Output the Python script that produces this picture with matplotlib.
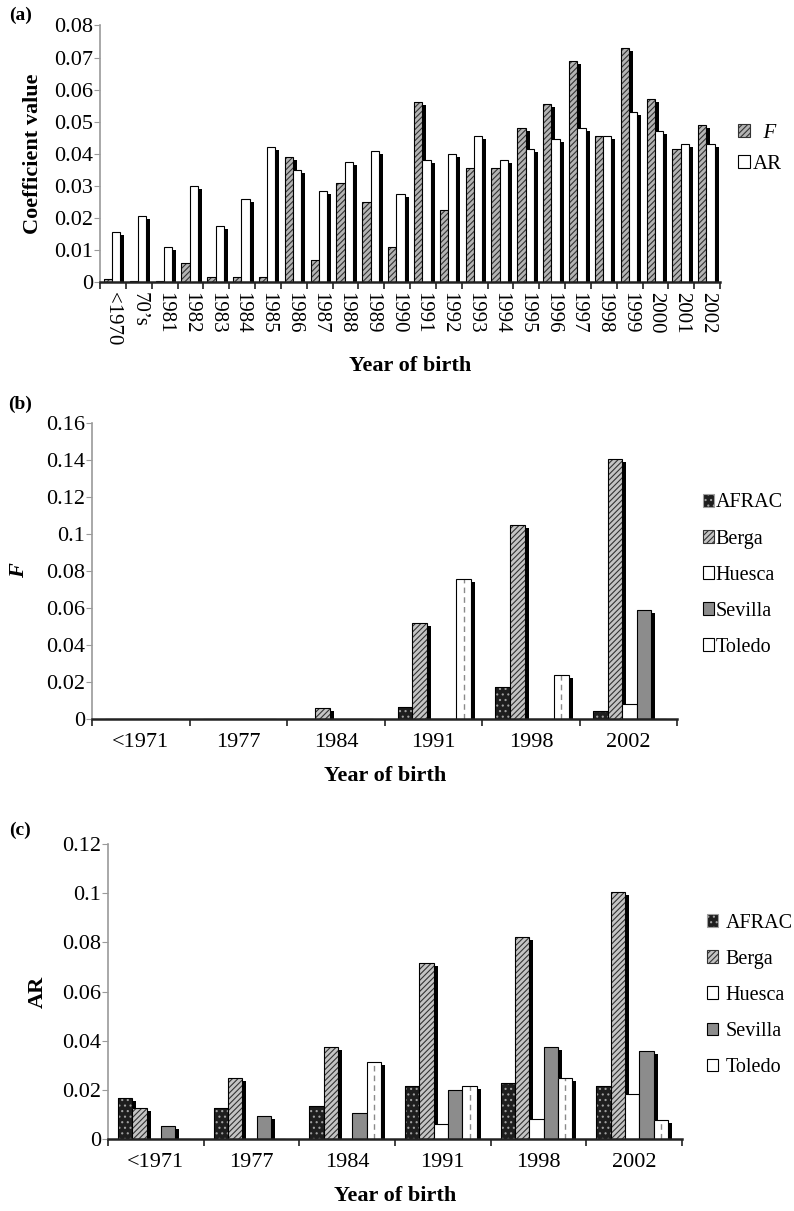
import numpy as np
import matplotlib
matplotlib.use('Agg')
import matplotlib.pyplot as plt
from matplotlib import font_manager
from matplotlib.patches import Patch
from matplotlib.transforms import ScaledTranslation
from matplotlib.ticker import FuncFormatter, MultipleLocator

# pick a Times-like serif that is actually installed
installed = {f.name for f in font_manager.fontManager.ttflist}
serif = 'DejaVu Serif'
for cand in ['Liberation Serif', 'Tinos', 'Times New Roman', 'STIXGeneral']:
    if cand in installed:
        serif = cand
        break
plt.rcParams['font.family'] = [serif, 'DejaVu Serif']
plt.rcParams['hatch.linewidth'] = 0.8

# ---- panel (a): F and AR by year of birth
years_a = ['<1970', '70’s', '1981', '1982', '1983', '1984', '1985', '1986',
           '1987', '1988', '1989', '1990', '1991', '1992', '1993', '1994',
           '1995', '1996', '1997', '1998', '1999', '2000', '2001', '2002']
f_a = [0.001, 0.0003, 0.0003, 0.006, 0.0015, 0.0015, 0.0015, 0.039,
       0.007, 0.031, 0.025, 0.011, 0.056, 0.0225, 0.0355, 0.0355,
       0.048, 0.0555, 0.069, 0.0455, 0.073, 0.057, 0.0415, 0.049]
ar_a = [0.0155, 0.0205, 0.011, 0.030, 0.0175, 0.026, 0.042, 0.035,
        0.0285, 0.0375, 0.041, 0.0275, 0.038, 0.040, 0.0455, 0.038,
        0.0415, 0.0445, 0.048, 0.0455, 0.053, 0.047, 0.043, 0.043]

# ---- panels (b) and (c): by population
years_bc = ['<1971', '1977', '1984', '1991', '1998', '2002']
pops = ['AFRAC', 'Berga', 'Huesca', 'Sevilla', 'Toledo']

f_afrac = [0, 0, 0, 0.0065, 0.0175, 0.0045]
f_berga = [0, 0, 0.006, 0.052, 0.105, 0.1405]
f_huesca = [0, 0, 0, 0, 0, 0.0085]
f_sevilla = [0, 0, 0, 0, 0, 0.0587]
f_toledo = [0, 0, 0, 0.0755, 0.024, 0]

ar_afrac = [0.0167, 0.0126, 0.0135, 0.0217, 0.0228, 0.0217]
ar_berga = [0.0126, 0.0248, 0.0374, 0.0716, 0.0822, 0.1005]
ar_huesca = [0, 0, 0, 0.0062, 0.0081, 0.0183]
ar_sevilla = [0.0055, 0.0095, 0.0106, 0.020, 0.0374, 0.0357]
ar_toledo = [0, 0, 0.0313, 0.0214, 0.0248, 0.0079]

STY = {
    'F':       dict(face='#b4b4b4', hatch='//////', hcol='#333333'),
    'AR':      dict(face='white', hatch=None, hcol='white'),
    'AFRAC':   dict(face='#1e1e1e', hatch='...', hcol='#a0a0a0'),
    'Berga':   dict(face='#c4c4c4', hatch='//////', hcol='#333333'),
    'Huesca':  dict(face='white', hatch=None, hcol='white'),
    'Sevilla': dict(face='#8c8c8c', hatch=None, hcol='#8c8c8c'),
    'Toledo':  dict(face='white', hatch=None, hcol='white'),
}

fig = plt.figure(figsize=(7.94, 12.11), dpi=100)
fig.patch.set_facecolor('white')
shadow = ScaledTranslation(0.04, -0.03, fig.dpi_scale_trans)


def draw_series(ax, x, h, w, name):
    st = STY[name]
    ax.bar(x, h, w, color='black', linewidth=0, zorder=2,
           transform=ax.transData + shadow)
    ax.bar(x, h, w, color=st['face'], hatch=st['hatch'],
           edgecolor=st['hcol'], linewidth=0, zorder=2)
    if name == 'Toledo':
        for xi, hi in zip(x, h):
            if hi > 0:
                ax.plot([xi, xi], [0, hi], color='#8a8a8a', lw=1.0,
                        ls=(0, (4, 3)), zorder=2)
    ax.bar(x, h, w, fill=False, edgecolor='black', linewidth=0.8, zorder=2)


def style_axis(ax, ncat, ymax, step, xrot=0, xfs=16, xpad=10):
    ax.set_xlim(-0.5, ncat - 0.5)
    ax.set_ylim(0, ymax)
    ax.yaxis.set_major_locator(MultipleLocator(step))
    ax.yaxis.set_major_formatter(FuncFormatter(lambda v, _: f'{round(v, 4):g}'))
    for s in ['top', 'right']:
        ax.spines[s].set_visible(False)
    ax.spines['left'].set_color('#9a9a9a')
    ax.spines['left'].set_linewidth(1.2)
    ax.spines['bottom'].set_color('#222222')
    ax.spines['bottom'].set_linewidth(1.8)
    ax.tick_params(axis='y', direction='out', length=4, color='#9a9a9a',
                   labelsize=16, pad=1)
    ax.set_xticks(np.arange(ncat))
    ax.set_xticks(np.arange(ncat + 1) - 0.5, minor=True)
    ax.tick_params(axis='x', which='major', length=0, labelsize=xfs,
                   pad=xpad, labelrotation=xrot)
    ax.tick_params(axis='x', which='minor', length=5, width=1.2,
                   color='#222222', direction='out')


def legend_handle(name):
    st = STY[name]
    edge = 'black' if st['hatch'] is None else st['hcol']
    return Patch(facecolor=st['face'], hatch=st['hatch'], edgecolor=edge,
                 linewidth=0.8)


# ---------- (a)
ax1 = fig.add_axes([0.126, 0.767, 0.781, 0.212])
xa = np.arange(len(years_a))
draw_series(ax1, xa - 0.19, f_a, 0.32, 'F')
draw_series(ax1, xa + 0.13, ar_a, 0.32, 'AR')
style_axis(ax1, len(years_a), 0.08, 0.01, xrot=-90, xfs=15, xpad=7)
ax1.set_xticklabels(years_a, va='top', ha='center')
ax1.set_ylabel('Coefficient value', fontsize=16, fontweight='bold', labelpad=8)
ax1.set_xlabel('Year of birth', fontsize=16, fontweight='bold', labelpad=8)
leg = fig.legend([legend_handle('F'), legend_handle('AR')], ['  F', 'AR'],
                 loc='center left', bbox_to_anchor=(0.930, 0.877),
                 frameon=False, fontsize=15, handlelength=0.55,
                 handleheight=0.6, handletextpad=0.15, labelspacing=0.6,
                 borderpad=0, borderaxespad=0)
leg.get_texts()[0].set_style('italic')
fig.text(0.012, 0.987, '(a)', fontsize=14, fontweight='bold', va='center')

# ---------- (b)
ax2 = fig.add_axes([0.116, 0.406, 0.737, 0.245])
xb = np.arange(len(years_bc))
f_series = [f_afrac, f_berga, f_huesca, f_sevilla, f_toledo]
for j, (name, vals) in enumerate(zip(pops, f_series)):
    draw_series(ax2, xb + 0.01 + (j - 2) * 0.15, vals, 0.15, name)
style_axis(ax2, len(years_bc), 0.16, 0.02)
ax2.set_xticklabels(years_bc)
ax2.set_ylabel('F', fontsize=16, fontweight='bold', style='italic', labelpad=12)
ax2.set_xlabel('Year of birth', fontsize=16, fontweight='bold', labelpad=10)
fig.legend([legend_handle(p) for p in pops], pops, loc='center left',
           bbox_to_anchor=(0.885, 0.525), frameon=False, fontsize=14.5,
           handlelength=0.55, handleheight=0.6, handletextpad=0.1,
           labelspacing=0.85, borderpad=0, borderaxespad=0)
fig.text(0.010, 0.666, '(b)', fontsize=14, fontweight='bold', va='center')

# ---------- (c)
ax3 = fig.add_axes([0.136, 0.0594, 0.723, 0.2436])
ar_series = [ar_afrac, ar_berga, ar_huesca, ar_sevilla, ar_toledo]
for j, (name, vals) in enumerate(zip(pops, ar_series)):
    draw_series(ax3, xb - 0.02 + (j - 2) * 0.15, vals, 0.15, name)
style_axis(ax3, len(years_bc), 0.12, 0.02)
ax3.set_xticklabels(years_bc)
ax3.set_ylabel('AR', fontsize=16, fontweight='bold', labelpad=10)
ax3.set_xlabel('Year of birth', fontsize=16, fontweight='bold', labelpad=10)
fig.legend([legend_handle(p) for p in pops], pops, loc='center left',
           bbox_to_anchor=(0.890, 0.178), frameon=False, fontsize=14.5,
           handlelength=0.55, handleheight=0.6, handletextpad=0.4,
           labelspacing=0.85, borderpad=0, borderaxespad=0)
fig.text(0.012, 0.314, '(c)', fontsize=14, fontweight='bold', va='center')

fig.savefig('out.png', dpi=100, facecolor='white')
